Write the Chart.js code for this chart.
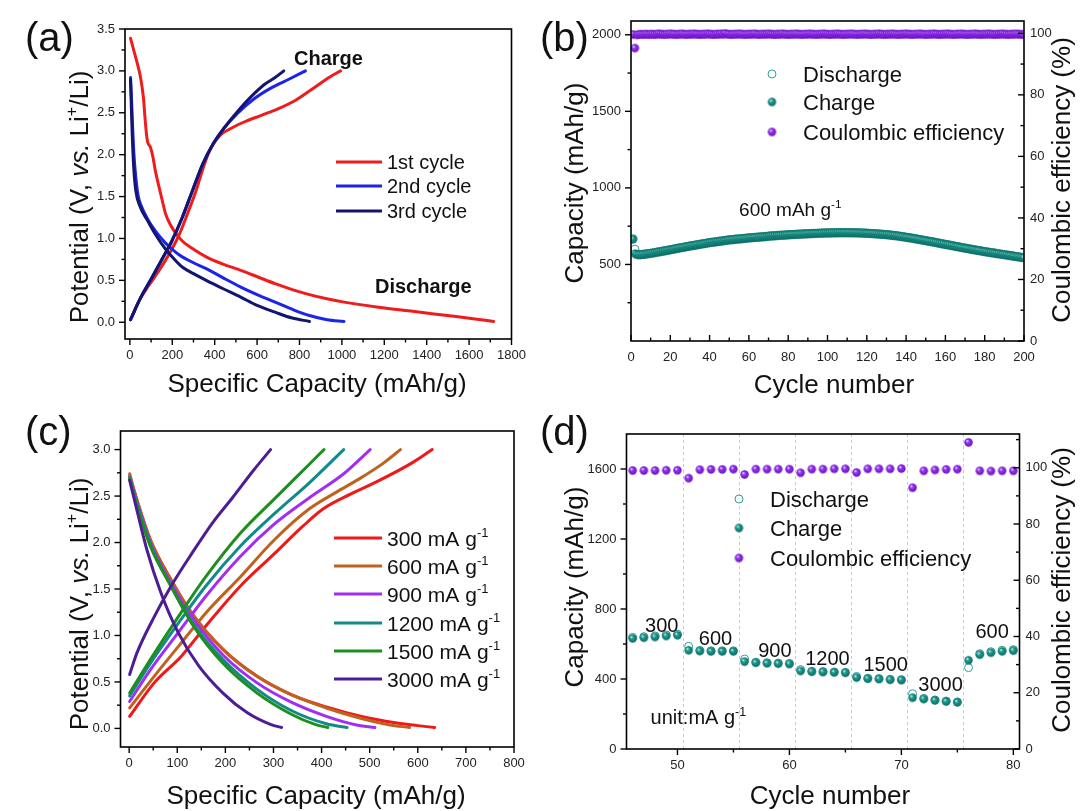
<!DOCTYPE html>
<html><head><meta charset="utf-8"><title>Electrochemical performance</title>
<script src="https://cdn.jsdelivr.net/npm/chart.js@4.4.1/dist/chart.umd.min.js"></script>
<style>
html,body{margin:0;padding:0;background:#fff}
#wrap{position:relative;width:1080px;height:811px;overflow:hidden;background:#fff}
#wrap canvas{position:absolute}
</style></head><body>
<div id="wrap">
<canvas id="ca" width="540" height="405" style="left:0;top:0"></canvas>
<canvas id="cb" width="540" height="405" style="left:540px;top:0"></canvas>
<canvas id="cc" width="540" height="406" style="left:0;top:405px"></canvas>
<canvas id="cd" width="540" height="406" style="left:540px;top:405px"></canvas>
</div>
<script>
// ================= DATA =================
// (a) galvanostatic profiles, first three cycles
const aSeriesNames = ['1st cycle', '2nd cycle', '3rd cycle'];
const a1DisX = [3, 19, 36, 49, 58, 65, 71, 78, 84, 97, 109, 120, 136, 153, 169, 190, 214, 247, 295, 360, 442, 523, 604, 685, 766, 847, 929, 1010, 1172, 1334, 1497, 1627, 1716];
const a1DisY = [3.39, 3.24, 3.08, 2.94, 2.80, 2.65, 2.45, 2.25, 2.15, 2.09, 1.97, 1.81, 1.63, 1.45, 1.29, 1.17, 1.07, 0.97, 0.88, 0.78, 0.69, 0.62, 0.54, 0.46, 0.39, 0.33, 0.28, 0.24, 0.18, 0.13, 0.08, 0.04, 0.01];
const a1ChgX = [3, 36, 84, 133, 182, 230, 271, 312, 352, 385, 425, 474, 539, 620, 701, 782, 864, 945, 994];
const a1ChgY = [0.03, 0.22, 0.42, 0.60, 0.80, 1.03, 1.29, 1.57, 1.89, 2.09, 2.23, 2.31, 2.39, 2.47, 2.55, 2.65, 2.79, 2.93, 3.00];
const a2DisX = [3, 8, 13, 19, 28, 39, 55, 84, 120, 166, 214, 247, 300, 360, 440, 523, 600, 685, 770, 847, 930, 1010];
const a2DisY = [2.92, 2.65, 2.33, 2.01, 1.73, 1.51, 1.38, 1.23, 1.09, 0.95, 0.84, 0.78, 0.71, 0.64, 0.53, 0.42, 0.33, 0.24, 0.15, 0.08, 0.03, 0.01];
const a2ChgX = [3, 52, 101, 149, 198, 247, 295, 344, 393, 442, 506, 588, 669, 750, 828];
const a2ChgY = [0.03, 0.30, 0.52, 0.74, 0.97, 1.25, 1.57, 1.89, 2.13, 2.31, 2.49, 2.67, 2.80, 2.90, 3.00];
const a3DisX = [3, 6, 11, 18, 28, 48, 84, 120, 166, 214, 247, 300, 360, 440, 523, 600, 685, 766, 847];
const a3DisY = [2.90, 2.65, 2.25, 1.85, 1.57, 1.38, 1.21, 1.05, 0.88, 0.74, 0.66, 0.58, 0.50, 0.40, 0.30, 0.20, 0.12, 0.05, 0.01];
const a3ChgX = [3, 52, 101, 149, 198, 247, 295, 344, 393, 442, 506, 571, 636, 685, 726];
const a3ChgY = [0.03, 0.30, 0.52, 0.74, 0.97, 1.25, 1.57, 1.89, 2.13, 2.31, 2.51, 2.69, 2.84, 2.92, 3.00];
const aXTicks = [0, 200, 400, 600, 800, 1000, 1200, 1400, 1600, 1800];
const aXMinor = [100, 300, 500, 700, 900, 1100, 1300, 1500, 1700];
const aYTicks = [0, 0.5, 1.0, 1.5, 2.0, 2.5, 3.0, 3.5];
const aYLabels = ['0.0', '0.5', '1.0', '1.5', '2.0', '2.5', '3.0', '3.5'];
const aYMinor = [0.25, 0.75, 1.25, 1.75, 2.25, 2.75, 3.25];

// (b) cycling at 600 mA g-1
const bCycles = Array.from({length: 200}, (_, i) => i + 1);
const bDischarge = [
 667, 600, 567, 566, 566, 567, 568, 570, 572, 574,
 576, 578, 581, 583, 585, 588, 590, 592, 595, 597,
 600, 602, 605, 607, 610, 612, 614, 617, 619, 622,
 624, 626, 628, 631, 633, 635, 637, 639, 642, 644,
 646, 647, 649, 651, 653, 654, 656, 658, 660, 662,
 663, 664, 666, 667, 668, 669, 671, 672, 673, 675,
 676, 677, 678, 679, 680, 681, 682, 683, 684, 686,
 687, 688, 689, 690, 691, 692, 692, 693, 694, 695,
 696, 697, 697, 698, 699, 699, 700, 701, 701, 702,
 703, 703, 704, 704, 705, 705, 706, 706, 707, 707,
 707, 708, 708, 708, 709, 709, 709, 709, 709, 709,
 709, 709, 708, 708, 708, 707, 707, 706, 706, 705,
 704, 704, 703, 702, 701, 700, 699, 698, 697, 696,
 695, 693, 692, 690, 689, 687, 685, 683, 681, 679,
 677, 675, 673, 671, 668, 666, 664, 661, 659, 657,
 654, 652, 650, 647, 645, 642, 640, 637, 635, 632,
 630, 628, 625, 623, 620, 618, 615, 613, 610, 608,
 606, 603, 601, 599, 596, 594, 592, 590, 587, 585,
 583, 581, 579, 577, 575, 573, 571, 569, 567, 565,
 563, 561, 559, 557, 555, 553, 551, 549, 547, 545];
const bCharge = [
 665, 570, 564, 563, 563, 565, 566, 568, 570, 572,
 574, 576, 579, 581, 583, 586, 588, 590, 593, 595,
 598, 600, 603, 605, 608, 610, 612, 615, 617, 620,
 622, 624, 626, 629, 631, 633, 635, 637, 640, 642,
 644, 645, 647, 649, 651, 652, 654, 656, 658, 660,
 661, 662, 664, 665, 666, 667, 669, 670, 671, 673,
 674, 675, 676, 677, 678, 679, 680, 681, 682, 684,
 685, 686, 687, 688, 689, 690, 690, 691, 692, 693,
 694, 695, 695, 696, 697, 697, 698, 699, 699, 700,
 701, 701, 702, 702, 703, 703, 704, 704, 705, 705,
 705, 706, 706, 706, 707, 707, 707, 707, 707, 707,
 707, 707, 706, 706, 706, 705, 705, 704, 704, 703,
 702, 702, 701, 700, 699, 698, 697, 696, 695, 694,
 693, 691, 690, 688, 687, 685, 683, 681, 679, 677,
 675, 673, 671, 669, 666, 664, 662, 659, 657, 655,
 652, 650, 648, 645, 643, 640, 638, 635, 633, 630,
 628, 626, 623, 621, 618, 616, 613, 611, 608, 606,
 604, 601, 599, 597, 594, 592, 590, 588, 585, 583,
 581, 579, 577, 575, 573, 571, 569, 567, 565, 563,
 561, 559, 557, 555, 553, 551, 549, 547, 545, 543];
const bCE = [
 99.6, 95.2, 99.5, 99.6, 99.7, 99.6, 99.7, 99.7, 99.6, 99.7,
 99.7, 99.6, 99.7, 99.8, 99.7, 99.7, 99.6, 99.7, 99.7, 99.8,
 99.7, 99.7, 99.6, 99.7, 99.7, 99.8, 99.7, 99.6, 99.7, 99.7,
 99.7, 99.8, 99.7, 99.7, 99.6, 99.7, 99.7, 99.7, 99.8, 99.7,
 99.7, 99.6, 99.7, 99.7, 99.7, 99.8, 99.7, 99.9, 99.7, 99.7,
 99.6, 99.7, 99.7, 99.7, 99.8, 99.7, 99.7, 99.6, 99.7, 99.7,
 99.7, 99.7, 99.8, 99.7, 99.6, 99.7, 99.7, 99.7, 99.7, 99.8,
 99.7, 99.7, 99.6, 99.7, 99.7, 99.7, 99.8, 99.7, 99.7, 99.6,
 99.7, 99.7, 99.7, 99.8, 99.7, 99.7, 99.6, 99.7, 99.7, 99.7,
 99.8, 99.7, 99.7, 99.6, 99.7, 99.7, 99.7, 99.8, 99.7, 99.7,
 99.6, 99.7, 99.7, 99.7, 99.8, 99.7, 99.7, 99.6, 99.7, 99.7,
 99.7, 99.8, 99.7, 99.7, 99.6, 99.7, 99.7, 99.7, 99.8, 99.7,
 99.7, 99.6, 99.7, 99.7, 99.7, 99.8, 99.7, 99.7, 99.6, 99.7,
 99.7, 99.7, 99.8, 99.7, 99.7, 99.6, 99.7, 99.7, 99.7, 99.8,
 99.7, 99.7, 99.6, 99.7, 99.7, 99.7, 99.8, 99.7, 99.7, 99.6,
 99.7, 99.7, 99.7, 99.8, 99.7, 99.7, 99.6, 99.7, 99.7, 99.7,
 99.8, 99.7, 99.7, 99.6, 99.7, 99.7, 99.7, 99.8, 99.7, 99.7,
 99.6, 99.7, 99.7, 99.7, 99.8, 99.7, 99.7, 99.6, 99.7, 99.7,
 99.7, 99.8, 99.7, 99.7, 99.6, 99.7, 99.7, 99.7, 99.8, 99.7,
 99.7, 99.6, 99.7, 99.7, 99.7, 99.8, 99.7, 99.7, 99.6, 99.7];
const bSeriesNames = ['Discharge', 'Charge', 'Coulombic efficiency'];
const bXTicks = [0, 20, 40, 60, 80, 100, 120, 140, 160, 180, 200];
const bXMinor = [10, 30, 50, 70, 90, 110, 130, 150, 170, 190];
const bYTicks = [500, 1000, 1500, 2000];
const bYMinor = [250, 750, 1250, 1750];
const bY2Ticks = [0, 20, 40, 60, 80, 100];
const bY2Minor = [10, 30, 50, 70, 90];

// (c) profiles at different current densities
const cRates = ['300', '600', '900', '1200', '1500', '3000'];
const cChgX = [
 [1, 52, 109, 159, 231, 302, 360, 403, 460, 517, 589, 630],
 [1, 52, 102, 159, 231, 302, 374, 430, 480, 530, 564],
 [1, 44, 102, 159, 231, 302, 374, 446, 501],
 [1, 44, 102, 159, 231, 302, 374, 446],
 [1, 44, 102, 159, 231, 302, 374, 405],
 [1, 16, 52, 87, 130, 173, 216, 259, 294]];
const cChgY = [
 [0.13, 0.49, 0.78, 1.10, 1.53, 1.88, 2.17, 2.36, 2.52, 2.66, 2.86, 3.00],
 [0.22, 0.56, 0.88, 1.24, 1.63, 2.03, 2.36, 2.54, 2.69, 2.86, 3.00],
 [0.29, 0.63, 1.03, 1.42, 1.85, 2.20, 2.48, 2.74, 3.00],
 [0.35, 0.70, 1.13, 1.53, 1.96, 2.31, 2.64, 3.00],
 [0.38, 0.74, 1.20, 1.63, 2.10, 2.47, 2.84, 3.00],
 [0.58, 0.81, 1.20, 1.53, 1.88, 2.21, 2.49, 2.78, 3.00]];
const cDisX = [
 [1, 16, 44, 87, 130, 195, 266, 338, 410, 481, 553, 600, 635],
 [1, 16, 44, 87, 130, 195, 266, 338, 410, 481, 540, 583],
 [1, 16, 44, 87, 130, 195, 266, 338, 410, 470, 511],
 [1, 16, 44, 87, 130, 195, 266, 338, 410, 453],
 [1, 16, 44, 87, 130, 195, 266, 338, 388, 413],
 [1, 16, 37, 66, 102, 145, 195, 245, 295, 317]];
const cDisY = [
 [2.72, 2.46, 2.03, 1.60, 1.24, 0.85, 0.56, 0.36, 0.23, 0.13, 0.06, 0.03, 0.01],
 [2.74, 2.46, 2.03, 1.60, 1.24, 0.85, 0.56, 0.36, 0.22, 0.11, 0.04, 0.01],
 [2.70, 2.44, 2.00, 1.56, 1.20, 0.79, 0.49, 0.28, 0.13, 0.04, 0.01],
 [2.70, 2.42, 1.98, 1.53, 1.15, 0.74, 0.42, 0.19, 0.05, 0.01],
 [2.68, 2.40, 1.96, 1.53, 1.13, 0.70, 0.38, 0.15, 0.04, 0.01],
 [2.67, 2.35, 1.92, 1.46, 1.03, 0.67, 0.38, 0.17, 0.04, 0.01]];
const cXTicks = [0, 100, 200, 300, 400, 500, 600, 700, 800];
const cXMinor = [50, 150, 250, 350, 450, 550, 650, 750];
const cYTicks = [0, 0.5, 1.0, 1.5, 2.0, 2.5, 3.0];
const cYLabels = ['0.0', '0.5', '1.0', '1.5', '2.0', '2.5', '3.0'];
const cYMinor = [0.25, 0.75, 1.25, 1.75, 2.25, 2.75];

// (d) rate capability
const dCycles = [46, 47, 48, 49, 50, 51, 52, 53, 54, 55, 56, 57, 58, 59, 60, 61, 62, 63, 64, 65, 66, 67, 68, 69, 70, 71, 72, 73, 74, 75, 76, 77, 78, 79, 80];
const dCharge = [632, 636, 640, 646, 650, 564, 560, 558, 558, 558, 499, 493, 490, 488, 486, 446, 442, 440, 438, 436, 408, 402, 400, 396, 394, 293, 286, 278, 272, 267, 507, 539, 550, 558, 562];
const dDischarge = [638, 642, 646, 652, 656, 587, 563, 561, 561, 561, 514, 496, 493, 491, 489, 454, 444, 442, 440, 438, 415, 404, 402, 398, 396, 316, 289, 280, 274, 269, 465, 545, 556, 564, 568];
const dCE = [99.0, 99.0, 99.0, 99.1, 99.1, 96.3, 99.3, 99.4, 99.4, 99.5, 97.6, 99.5, 99.5, 99.5, 99.5, 98.2, 99.5, 99.5, 99.6, 99.6, 98.3, 99.6, 99.6, 99.6, 99.7, 92.9, 98.9, 99.2, 99.4, 99.5, 109.0, 98.9, 98.8, 98.9, 98.9];
const dRateLabels = ['300', '600', '900', '1200', '1500', '3000', '600'];
const dRateLabelX = [48.6, 53.4, 58.7, 63.4, 68.6, 73.5, 78.1];
const dRateLabelY = [712, 636, 568, 520, 488, 373, 674];
const dSeparators = [50.5, 55.5, 60.5, 65.5, 70.5, 75.5];
const dXTicks = [50, 60, 70, 80];
const dXMinor = [55, 65, 75];
const dYTicks = [0, 400, 800, 1200, 1600];
const dYMinor = [200, 600, 1000, 1400];
const dY2Ticks = [0, 20, 40, 60, 80, 100];
const dY2Minor = [10, 30, 50, 70, 90, 110];

// ================= HELPERS =================
const FAM = '"Liberation Sans", Arial, Helvetica, sans-serif';
Chart.defaults.font.family = FAM;
Chart.defaults.color = '#1a1a1a';

function pts(xs, ys) { return xs.map((x, i) => ({x: x, y: ys[i]})); }

function ball(light, mid, dark, r) {
  const s = Math.ceil(r * 2 + 2);
  const c = document.createElement('canvas');
  c.width = s; c.height = s;
  const g = c.getContext('2d');
  const cx = s / 2, cy = s / 2;
  const grad = g.createRadialGradient(cx - r * 0.35, cy - r * 0.4, r * 0.05, cx, cy, r);
  grad.addColorStop(0, light);
  grad.addColorStop(0.35, mid);
  grad.addColorStop(1, dark);
  g.fillStyle = grad;
  g.beginPath(); g.arc(cx, cy, r, 0, Math.PI * 2); g.fill();
  return c;
}
const tealBall = ball('#d9fbf6', '#1e9c92', '#0a6a62', 4.2);
const purpleBall = ball('#f3e2ff', '#9636f2', '#6a0fc4', 4.2);

function segsOf(s) { return typeof s === 'string' ? [{t: s}] : s; }

function drawRich(ctx, segs, x, y, size, opt) {
  opt = opt || {};
  segs = segsOf(segs);
  ctx.save();
  ctx.translate(x, y);
  if (opt.rot) ctx.rotate(opt.rot);
  const wt = opt.bold ? 'bold ' : '';
  const parts = segs.map(s => {
    const fs = s.sup ? size * 0.62 : size;
    const f = (s.i ? 'italic ' : '') + wt + fs.toFixed(1) + 'px ' + FAM;
    ctx.font = f;
    return {s: s, f: f, w: ctx.measureText(s.t).width};
  });
  const total = parts.reduce((a, p) => a + p.w, 0);
  let cx = opt.align === 'center' ? -total / 2 : 0;
  ctx.fillStyle = opt.color || '#111';
  ctx.textBaseline = 'alphabetic';
  ctx.textAlign = 'left';
  const base = size * 0.36;
  parts.forEach(p => {
    ctx.font = p.f;
    ctx.fillText(p.s.t, cx, p.s.sup ? base - size * 0.42 : base);
    cx += p.w;
  });
  ctx.restore();
}

const DECO = {};

const decoPlugin = {
  id: 'deco',
  beforeDatasetsDraw(chart) {
    const d = DECO[chart.canvas.id]; if (!d || !d.vlines) return;
    const ctx = chart.ctx, a = chart.chartArea, sx = chart.scales.x;
    ctx.save();
    ctx.strokeStyle = '#c9c9c9'; ctx.lineWidth = 1; ctx.setLineDash([3, 3]);
    d.vlines.forEach(v => {
      const p = Math.round(sx.getPixelForValue(v)) + 0.5;
      ctx.beginPath(); ctx.moveTo(p, a.top); ctx.lineTo(p, a.bottom); ctx.stroke();
    });
    ctx.restore();
  },
  afterDraw(chart) {
    const d = DECO[chart.canvas.id]; if (!d) return;
    const ctx = chart.ctx, a = chart.chartArea;
    ctx.save();
    ctx.strokeStyle = '#000'; ctx.lineWidth = 1.6; ctx.setLineDash([]);
    ctx.strokeRect(a.left, a.top, a.right - a.left, a.bottom - a.top);
    ctx.lineWidth = 1.4;
    (d.ticks || []).forEach(spec => {
      const sc = chart.scales[spec.id];
      const draw = (v, L) => {
        const p = sc.getPixelForValue(v);
        const s = spec.dir === 'out' ? 1 : -1;
        ctx.beginPath();
        if (spec.pos === 'bottom') { ctx.moveTo(p, a.bottom); ctx.lineTo(p, a.bottom + s * L); }
        else if (spec.pos === 'left') { ctx.moveTo(a.left, p); ctx.lineTo(a.left - s * L, p); }
        else { ctx.moveTo(a.right, p); ctx.lineTo(a.right + s * L, p); }
        ctx.stroke();
      };
      spec.major.forEach(v => draw(v, 6));
      spec.minor.forEach(v => draw(v, 3.5));
    });
    (d.titles || []).forEach(t => drawRich(ctx, t.segs, t.x, t.y, t.size, {align: 'center', rot: t.rot}));
    (d.texts || []).forEach(t => {
      const px = chart.scales[t.xs || 'x'].getPixelForValue(t.dx);
      const py = chart.scales[t.ys || 'y'].getPixelForValue(t.dy);
      drawRich(ctx, t.segs, px, py, t.size, {align: t.align, bold: t.bold});
    });
    if (d.legend) {
      const L = d.legend;
      L.items.forEach((it, i) => {
        const y = L.ys[i];
        if (it.type === 'line') {
          ctx.strokeStyle = it.color; ctx.lineWidth = 3;
          ctx.beginPath(); ctx.moveTo(L.x1, y); ctx.lineTo(L.x2, y); ctx.stroke();
        } else if (it.type === 'img') {
          ctx.drawImage(it.img, L.mx - it.img.width / 2, y - it.img.height / 2);
        } else {
          ctx.fillStyle = '#fff'; ctx.strokeStyle = it.color; ctx.lineWidth = 1;
          ctx.beginPath(); ctx.arc(L.mx, y, 4, 0, Math.PI * 2); ctx.fill(); ctx.stroke();
        }
        drawRich(ctx, it.segs, L.tx, y, L.size, {align: 'left'});
      });
    }
    if (d.label) {
      ctx.fillStyle = '#111'; ctx.font = '40px ' + FAM; ctx.textBaseline = 'alphabetic'; ctx.textAlign = 'left';
      ctx.fillText(d.label.t, d.label.x, d.label.y);
    }
    ctx.restore();
  }
};
Chart.register(decoPlugin);

function scale(o) {
  return {
    type: 'linear', position: o.pos, min: o.min, max: o.max,
    grid: {display: false, drawTicks: false}, border: {display: false},
    title: {display: false},
    afterBuildTicks: sc => { sc.ticks = o.major.map(v => ({value: v})); },
    ticks: {autoSkip: false, maxRotation: 0, minRotation: 0, padding: o.pad, color: '#222', font: {size: 13},
      callback: (v, i) => (o.labels ? o.labels[i] : String(o.major[i]))},
    afterFit: sc => { if (o.w != null) sc.width = o.w; if (o.h != null) sc.height = o.h; }
  };
}

function baseOpts(pad, scales) {
  return {
    responsive: false, animation: false, devicePixelRatio: 1, events: [],
    layout: {padding: pad},
    plugins: {legend: {display: false}, tooltip: {enabled: false}},
    scales: scales
  };
}

// later datasets are drawn on top (lower "order" = drawn later)
function lineDs(xs, ys, color, order) {
  return {data: pts(xs, ys), showLine: true, borderColor: color, backgroundColor: color, borderWidth: 3,
    pointRadius: 0, fill: false, cubicInterpolationMode: 'monotone', borderCapStyle: 'round', borderJoinStyle: 'round', order: order};
}

const ITALIC_TITLE = [{t: 'Potential (V, '}, {t: 'vs.', i: 1}, {t: ' Li'}, {t: '+', sup: 1}, {t: '/Li)'}];

// ================= (a) =================
const colA = ['#f01c1c', '#1c24ec', '#13156e'];
DECO.ca = {
  label: {t: '(a)', x: 25, y: 51},
  ticks: [
    {id: 'x', pos: 'bottom', major: aXTicks, minor: aXMinor, dir: 'out'},
    {id: 'y', pos: 'left', major: aYTicks, minor: aYMinor, dir: 'out'}],
  titles: [
    {segs: 'Specific Capacity (mAh/g)', x: 317, y: 383, size: 26},
    {segs: ITALIC_TITLE, x: 79, y: 197, size: 26, rot: -Math.PI / 2}],
  texts: [
    {segs: 'Charge', dx: 774, dy: 3.16, size: 20, bold: true, align: 'left'},
    {segs: 'Discharge', dx: 1156, dy: 0.43, size: 20, bold: true, align: 'left'}],
  legend: {x1: 336, x2: 382, tx: 387, ys: [162, 186, 211], size: 20,
    items: aSeriesNames.map((n, i) => ({type: 'line', color: colA[i], segs: n}))}
};
new Chart(document.getElementById('ca'), {
  type: 'scatter',
  data: {datasets: [
    lineDs(a1DisX, a1DisY, colA[0], 6), lineDs(a1ChgX, a1ChgY, colA[0], 5),
    lineDs(a2DisX, a2DisY, colA[1], 4), lineDs(a2ChgX, a2ChgY, colA[1], 3),
    lineDs(a3DisX, a3DisY, colA[2], 2), lineDs(a3ChgX, a3ChgY, colA[2], 1)]},
  options: baseOpts({left: 0, top: 29, right: 28.5, bottom: 0}, {
    x: scale({pos: 'bottom', min: -23, max: 1800, major: aXTicks, pad: 9, h: 66}),
    y: scale({pos: 'left', min: -0.2, max: 3.5, major: aYTicks, labels: aYLabels, pad: 10, w: 125})
  })
});

// ================= (b) =================
DECO.cb = {
  label: {t: '(b)', x: 0, y: 51},
  ticks: [
    {id: 'x', pos: 'bottom', major: bXTicks, minor: bXMinor, dir: 'in'},
    {id: 'y', pos: 'left', major: bYTicks, minor: bYMinor, dir: 'out'},
    {id: 'y2', pos: 'right', major: bY2Ticks, minor: bY2Minor, dir: 'in'}],
  titles: [
    {segs: 'Cycle number', x: 294, y: 384, size: 26},
    {segs: 'Capacity (mAh/g)', x: 34, y: 183, size: 26, rot: -Math.PI / 2},
    {segs: 'Coulombic efficiency (%)', x: 521, y: 180, size: 26, rot: -Math.PI / 2}],
  texts: [
    {segs: [{t: '600 mAh g'}, {t: '-1', sup: 1}], dx: 55, dy: 860, size: 19, align: 'left'}],
  legend: {mx: 232, tx: 263, ys: [74, 102, 132], size: 22,
    items: [{type: 'open', color: '#2f9f96', segs: bSeriesNames[0]},
            {type: 'img', img: tealBall, segs: bSeriesNames[1]},
            {type: 'img', img: purpleBall, segs: bSeriesNames[2]}]}
};
new Chart(document.getElementById('cb'), {
  type: 'scatter',
  data: {datasets: [
    {data: pts(bCycles, bDischarge), pointStyle: 'circle', pointRadius: 4, backgroundColor: '#fff', borderColor: '#2f9f96', borderWidth: 1, order: 3},
    {data: pts(bCycles, bCharge), pointStyle: tealBall, pointRadius: 4.2, order: 2},
    {data: pts(bCycles, bCE), yAxisID: 'y2', pointStyle: purpleBall, pointRadius: 4.2, order: 1}]},
  options: baseOpts({left: 0, top: 21, right: 0, bottom: 0}, {
    x: scale({pos: 'bottom', min: 0, max: 200, major: bXTicks, pad: 9, h: 64}),
    y: scale({pos: 'left', min: 0, max: 2090, major: bYTicks, pad: 10, w: 91}),
    y2: scale({pos: 'right', min: 0, max: 104, major: bY2Ticks, pad: 6, w: 56})
  })
});

// ================= (c) =================
const colC = ['#f01818', '#bf621f', '#a12ef2', '#138a8a', '#1e8f1e', '#4e1c94'];
DECO.cc = {
  label: {t: '(c)', x: 25, y: 40},
  ticks: [
    {id: 'x', pos: 'bottom', major: cXTicks, minor: cXMinor, dir: 'out'},
    {id: 'y', pos: 'left', major: cYTicks, minor: cYMinor, dir: 'out'}],
  titles: [
    {segs: 'Specific Capacity (mAh/g)', x: 316, y: 390, size: 26},
    {segs: ITALIC_TITLE, x: 79, y: 199, size: 26, rot: -Math.PI / 2}],
  legend: {x1: 334, x2: 382, tx: 387, ys: [133, 161, 189, 218, 246, 274], size: 21,
    items: cRates.map((r, i) => ({type: 'line', color: colC[i], segs: [{t: r + ' mA g'}, {t: '-1', sup: 1}]}))}
};
const cDatasets = [];
cRates.forEach((r, i) => {
  cDatasets.push(lineDs(cChgX[i], cChgY[i], colC[i], 20 - 2 * i));
  cDatasets.push(lineDs(cDisX[i], cDisY[i], colC[i], 19 - 2 * i));
});
new Chart(document.getElementById('cc'), {
  type: 'scatter',
  data: {datasets: cDatasets},
  options: baseOpts({left: 0, top: 26, right: 26, bottom: 0}, {
    x: scale({pos: 'bottom', min: -18, max: 800, major: cXTicks, pad: 9, h: 64}),
    y: scale({pos: 'left', min: -0.2, max: 3.2, major: cYTicks, labels: cYLabels, pad: 10, w: 120.5})
  })
});

// ================= (d) =================
DECO.cd = {
  label: {t: '(d)', x: 0, y: 40},
  vlines: dSeparators,
  ticks: [
    {id: 'x', pos: 'bottom', major: dXTicks, minor: dXMinor, dir: 'out'},
    {id: 'y', pos: 'left', major: dYTicks, minor: dYMinor, dir: 'out'},
    {id: 'y2', pos: 'right', major: dY2Ticks, minor: dY2Minor, dir: 'in'}],
  titles: [
    {segs: 'Cycle number', x: 290, y: 390, size: 26},
    {segs: 'Capacity (mAh/g)', x: 34, y: 182, size: 26, rot: -Math.PI / 2},
    {segs: 'Coulombic efficiency (%)', x: 521, y: 185, size: 26, rot: -Math.PI / 2}],
  texts: dRateLabels.map((t, i) => ({segs: t, dx: dRateLabelX[i], dy: dRateLabelY[i], size: 20, align: 'center'}))
    .concat([{segs: [{t: 'unit:mA g'}, {t: '-1', sup: 1}], dx: 47.6, dy: 183, size: 20, align: 'left'}]),
  legend: {mx: 199, tx: 230, ys: [94, 123, 153], size: 22,
    items: [{type: 'open', color: '#2f9f96', segs: bSeriesNames[0]},
            {type: 'img', img: tealBall, segs: bSeriesNames[1]},
            {type: 'img', img: purpleBall, segs: bSeriesNames[2]}]}
};
new Chart(document.getElementById('cd'), {
  type: 'scatter',
  data: {datasets: [
    {data: pts(dCycles, dDischarge), pointStyle: 'circle', pointRadius: 4, backgroundColor: '#fff', borderColor: '#2f9f96', borderWidth: 1, order: 3},
    {data: pts(dCycles, dCharge), pointStyle: tealBall, pointRadius: 4.2, order: 2},
    {data: pts(dCycles, dCE), yAxisID: 'y2', pointStyle: purpleBall, pointRadius: 4.2, order: 1}]},
  options: baseOpts({left: 0, top: 29, right: 0, bottom: 0}, {
    x: scale({pos: 'bottom', min: 45.45, max: 80.55, major: dXTicks, pad: 9, h: 62}),
    y: scale({pos: 'left', min: 0, max: 1800, major: dYTicks, pad: 10, w: 86.5}),
    y2: scale({pos: 'right', min: 0, max: 112, major: dY2Ticks, pad: 6, w: 60.5})
  })
});
</script>
</body></html>
